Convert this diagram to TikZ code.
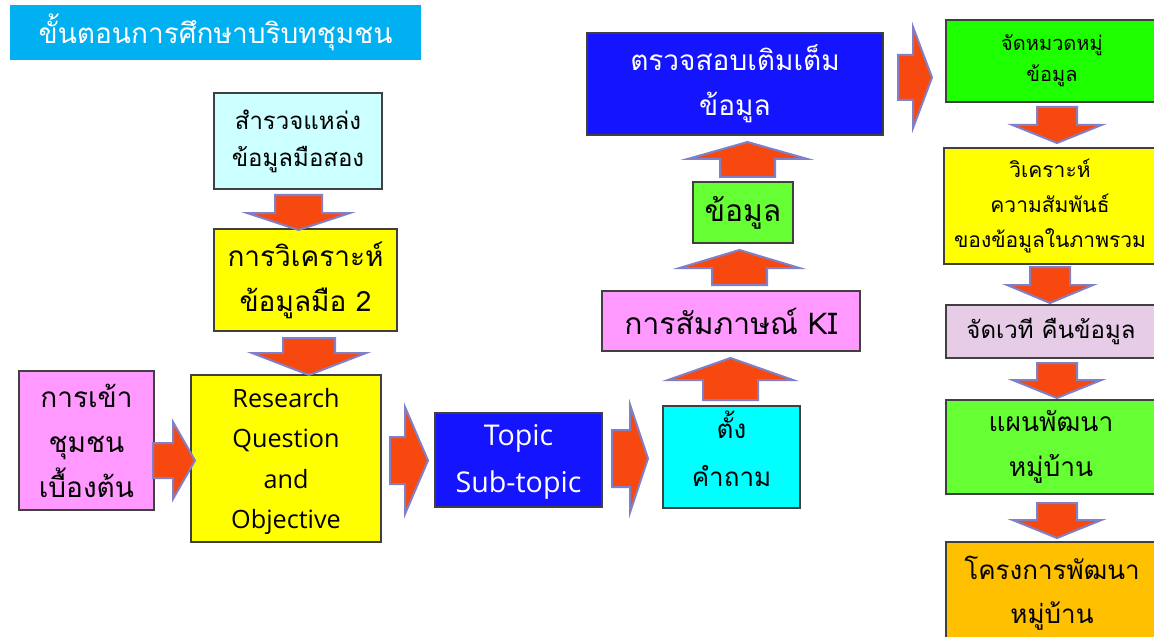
\documentclass[tikz,border=0pt]{standalone}
\usepackage{fontspec}
\setmainfont[Script=Thai]{Loma}
\newfontfamily\latinfont{Open Sans}
\definecolor{titlebg}{HTML}{00B0F0}
\definecolor{lcyan}{HTML}{CCFFFF}
\definecolor{byellow}{HTML}{FFFF00}
\definecolor{bpink}{HTML}{FF99FF}
\definecolor{bblue}{HTML}{1414FF}
\definecolor{bcyan}{HTML}{00FFFF}
\definecolor{lgreen}{HTML}{66FF33}
\definecolor{bgreen}{HTML}{1EFF00}
\definecolor{lpink}{HTML}{E6CCE6}
\definecolor{borange}{HTML}{FFC000}
\definecolor{arrfill}{HTML}{F7480F}
\definecolor{arrline}{HTML}{7F80C8}
\definecolor{boxline}{HTML}{404040}
\tikzset{
  box/.style={draw=boxline, line width=0.6pt, align=center, inner sep=0pt, text=black},
  lbl/.style={align=center, inner sep=0pt},
  barrow/.style={fill=arrfill, draw=arrline, line width=1pt, line join=miter},
}
% down/up block arrow: cx, ytail, ywing, ytip, shafthalf, headhalf
\newcommand\vblockarrow[6]{\draw[barrow] (#1-#5,#2) -- (#1+#5,#2) -- (#1+#5,#3) -- (#1+#6,#3) -- (#1,#4) -- (#1-#6,#3) -- (#1-#5,#3) -- cycle;}
% right block arrow: cy, xtail, xwing, xtip, shafthalf, headhalf
\newcommand\hblockarrow[6]{\draw[barrow] (#2,#1-#5) -- (#3,#1-#5) -- (#3,#1-#6) -- (#4,#1) -- (#3,#1+#6) -- (#3,#1+#5) -- (#2,#1+#5) -- cycle;}
\begin{document}
\begin{tikzpicture}[x=0.5pt,y=-0.5pt]
\useasboundingbox[fill=white] (0,0) rectangle (1154,636);
% title
\node[fill=titlebg, minimum width=205.5pt, minimum height=27.5pt, inner sep=0pt, text=white, font=\fontsize{14}{16}\selectfont] (title) at (215.5,32.5) {ขั้นตอนการศึกษาบริบทชุมชน};
% boxes
\node[box, fill=lcyan, minimum width=84pt, minimum height=48pt, font=\fontsize{12}{18.5}\selectfont] (b1) at (298,141) {สำรวจแหล่ง\\ข้อมูลมือสอง};
\node[box, fill=byellow, minimum width=91.5pt, minimum height=51pt, font=\fontsize{14}{22.5}\selectfont] (b2) at (305.5,280) {การวิเคราะห์\\ข้อมูลมือ 2};
\node[box, fill=bpink, minimum width=67.5pt, minimum height=69.5pt, font=\fontsize{14}{22.5}\selectfont] (b3) at (86.5,440.5) {การเข้า\\ชุมชน\\เบื้องต้น};
\node[box, fill=byellow, minimum width=95pt, minimum height=83.5pt] (b4) at (286,458.5) {};
\node[lbl, font=\latinfont\fontsize{12.6}{20.25}\selectfont] (t4) at ([yshift=-1.5pt]b4.center) {Research\\Question\\and\\Objective};
\node[box, fill=bblue, minimum width=83.5pt, minimum height=47pt] (b5) at (518.5,460) {};
\node[lbl, text=white, font=\latinfont\fontsize{14.3}{23.5}\selectfont] (t5) at ([yshift=-1pt]b5.center) {Topic\\Sub-topic};
\node[box, fill=bcyan, minimum width=68.5pt, minimum height=51pt] (b6) at (731.5,457) {};
\node[lbl, font=\fontsize{13}{24}\selectfont] (t6) at ([yshift=4pt]b6.center) {ตั้ง\\คำถาม};
\node[box, fill=bpink, minimum width=129pt, minimum height=30pt, font=\fontsize{15}{17}\selectfont] (b7) at (731,321) {การสัมภาษณ์ KI};
\node[box, fill=lgreen, minimum width=50pt, minimum height=30.5pt, font=\fontsize{15}{17}\selectfont] (b8) at (743,212.5) {ข้อมูล};
\node[box, fill=bblue, text=white, minimum width=148pt, minimum height=51pt, font=\fontsize{14}{22.5}\selectfont] (b9) at (735,84) {ตรวจสอบเติมเต็ม\\ข้อมูล};
\node[box, fill=bgreen, minimum width=106pt, minimum height=41pt, font=\fontsize{10}{15.5}\selectfont] (b10) at (1052,61) {จัดหมวดหมู่\\ข้อมูล};
\node[box, fill=byellow, minimum width=106pt, minimum height=58pt, font=\fontsize{10.5}{17.5}\selectfont] (b11) at (1050,206) {วิเคราะห์\\ความสัมพันธ์\\ของข้อมูลในภาพรวม};
\node[box, fill=lpink, minimum width=105pt, minimum height=26.5pt, font=\fontsize{12}{14}\selectfont] (b12) at (1051,331.5) {จัดเวที คืนข้อมูล};
\node[box, fill=lgreen, minimum width=105pt, minimum height=47pt, font=\fontsize{13.2}{22.5}\selectfont] (b13) at (1051,447) {แผนพัฒนา\\หมู่บ้าน};
\node[box, fill=borange, minimum width=106pt, minimum height=51.5pt, font=\fontsize{13}{22}\selectfont] (b14) at (1052,593.5) {โครงการพัฒนา\\หมู่บ้าน};
% block arrows
\vblockarrow{298.5}{195}{213}{230}{23.5}{51.5}
\vblockarrow{309}{338}{353}{375}{26}{57}
\hblockarrow{460.5}{153}{173}{195}{17.5}{38.5}
\hblockarrow{460.5}{390}{405}{428}{23.5}{53.5}
\hblockarrow{458.5}{612}{630}{648}{28.5}{54}
\vblockarrow{730.5}{400}{380}{358}{27.5}{62.5}
\vblockarrow{739.5}{285}{268}{250}{27.5}{60}
\vblockarrow{747.5}{177}{159}{142}{27.5}{60}
\hblockarrow{77.5}{898}{913}{932}{22.5}{50.5}
\vblockarrow{1057}{107}{125}{143}{20}{44.5}
\vblockarrow{1050}{267}{285}{303}{20}{43}
\vblockarrow{1057}{363}{380}{398}{20}{44.5}
\vblockarrow{1057}{503}{520}{538}{20}{44.5}
\end{tikzpicture}
\end{document}
